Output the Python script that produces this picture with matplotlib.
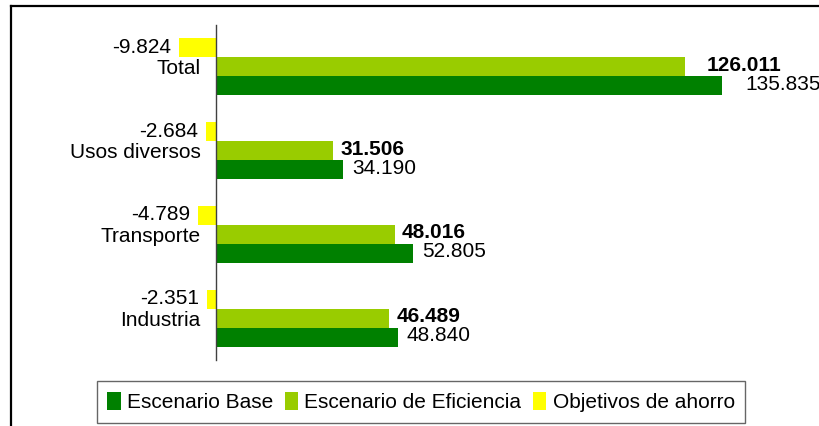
import matplotlib.pyplot as plt
from matplotlib.lines import Line2D
import numpy as np

plt.rcParams["font.family"] = ["Liberation Sans", "DejaVu Sans"]

categories = ["Total", "Usos diversos", "Transporte", "Industria"]
base = [135.835, 34.190, 52.805, 48.840]
eficiencia = [126.011, 31.506, 48.016, 46.489]
ahorro = [-9.824, -2.684, -4.789, -2.351]

series_names = ["Escenario Base", "Escenario de Eficiencia", "Objetivos de ahorro"]
c_base, c_efi, c_aho = "#008000", "#99CC00", "#FFFF00"
FS = 15


def fmt(v):
    return f"{v:.3f}"


W, H = 819, 426
fig = plt.figure(figsize=(W / 100, H / 100), dpi=100)

# axes: 0 at x=216 px, 3.725 px per unit, from y=25 to y=360 px
left_px, right_px = 150, 800
ax = fig.add_axes([left_px / W, 1 - 360 / H, (right_px - left_px) / W, 335 / H])
ax.set_xlim(-(216 - left_px) / 3.725, (right_px - 216) / 3.725)

y = np.arange(len(categories))
h = 0.226
ax.barh(y - h, ahorro, height=h, color=c_aho, label=series_names[2])
ax.barh(y, eficiencia, height=h, color=c_efi, label=series_names[1])
ax.barh(y + h, base, height=h, color=c_base, label=series_names[0])
ax.set_ylim(3.5, -0.5)

# value labels
extra = [14, 0, 0, 0]  # px, Total labels sit further out
for i in range(len(categories)):
    ax.annotate(fmt(ahorro[i]), (ahorro[i], y[i] - h), xytext=(-6, 0.5),
                textcoords="offset points", ha="right", va="center", fontsize=FS)
    ax.annotate(fmt(eficiencia[i]), (eficiencia[i], y[i]), xytext=((7 + extra[i]) * 0.72, 1),
                textcoords="offset points", ha="left", va="center", fontsize=FS,
                fontweight="bold")
    ax.annotate(fmt(base[i]), (base[i], y[i] + h), xytext=((7 + extra[i] + 2) * 0.72, 1),
                textcoords="offset points", ha="left", va="center", fontsize=FS)

for s in ["top", "right", "bottom"]:
    ax.spines[s].set_visible(False)
ax.spines["left"].set_position(("data", 0))
ax.spines["left"].set_color("#404040")
ax.spines["left"].set_linewidth(1.0)
ax.set_xticks([])
ax.set_yticks(y, categories)
ax.tick_params(axis="y", length=0, pad=11, labelsize=FS)

handles, labels = ax.get_legend_handles_labels()
leg = fig.legend(handles[::-1], labels[::-1], loc="center", ncol=3,
                 bbox_to_anchor=(421 / W, 1 - 402 / H), bbox_transform=fig.transFigure,
                 fontsize=FS, frameon=True, fancybox=False, edgecolor="#404040",
                 handlelength=0.65, handleheight=1.0, handletextpad=0.3,
                 columnspacing=0.55, borderpad=0.5)
leg.get_frame().set_linewidth(1.0)

# outer chart border (left and top visible)
fig.add_artist(Line2D([10.5 / W, 10.5 / W], [0, 1 - 5.5 / H], color="black", lw=1.6,
                      transform=fig.transFigure))
fig.add_artist(Line2D([10.5 / W, 1], [1 - 5.5 / H, 1 - 5.5 / H], color="black", lw=1.6,
                      transform=fig.transFigure))

fig.savefig("out.png", dpi=100)
